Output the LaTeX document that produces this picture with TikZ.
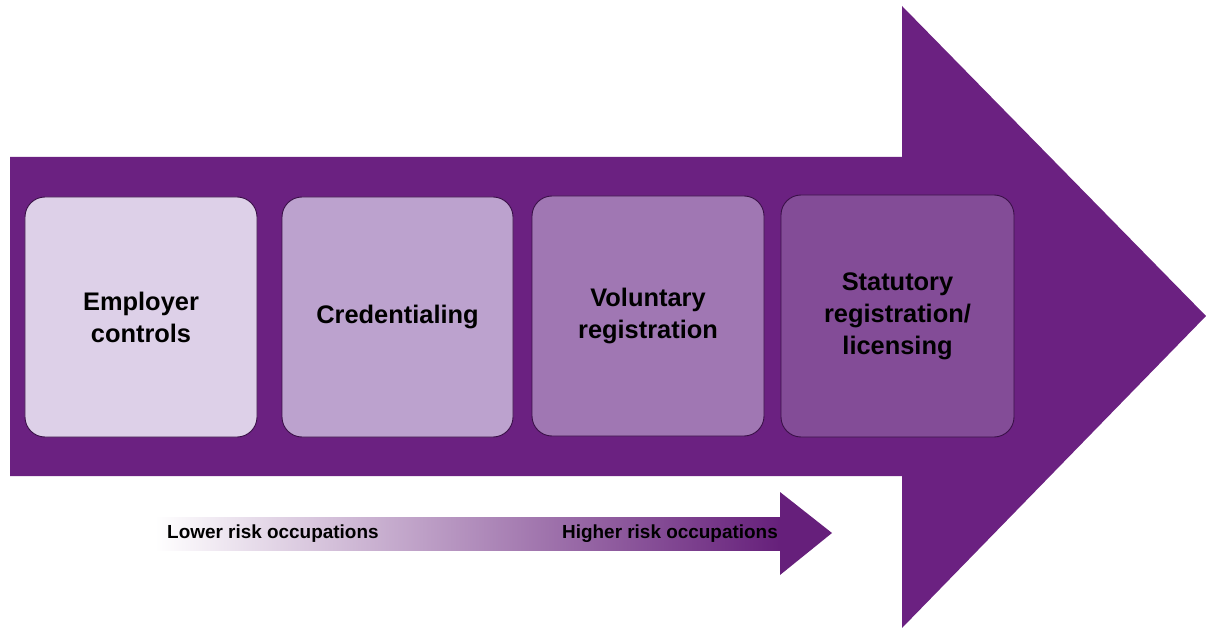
\documentclass[tikz,border=0pt]{standalone}
\usepackage{fontspec}
\setmainfont{Liberation Sans}
\usetikzlibrary{positioning}
\usetikzlibrary{calc}

\definecolor{mainpurple}{HTML}{6B2181}
\definecolor{stepA}{HTML}{DDD0E8}
\definecolor{stepB}{HTML}{BCA2CE}
\definecolor{stepC}{HTML}{A077B3}
\definecolor{stepD}{HTML}{834C97}
\definecolor{edgepurple}{HTML}{3A1048}

\begin{document}
\begin{tikzpicture}[x=1bp,y=-1bp]
			\tikzset{stage/.style = {shape=rectangle, rounded corners=20bp, draw=edgepurple, line width=0.9bp,
					minimum width=232bp, minimum height=240bp, inner sep=0pt, align=center,
					font=\fontsize{25.5}{32}\selectfont\bfseries}}
			\tikzset{risk/.style = {inner sep=0pt, font=\fontsize{19}{23}\selectfont\bfseries}}
			
			\useasboundingbox (0,0) rectangle (1206,628);
			
			% big arrow
			\fill[mainpurple] (10,157) -- (902,157) -- (902,6) -- (1206,316)
				-- (902,628) -- (902,476) -- (10,476) -- cycle;
			
			% stages
			\node[stage, fill=stepA] (EMPLOYER) at (141,317) {Employer\\controls};
			\node[stage, fill=stepB, minimum width=231bp] (CRED) at (397.5,317) {Credentialing};
			\node[stage, fill=stepC] (VOLUNTARY) at (648,316) {Voluntary\\registration};
			\node[stage, fill=stepD, minimum width=233bp, minimum height=242bp] (STATUTORY) at (897.5,316)
				{Statutory\\registration/\\licensing};
			
			% small arrow
			\shade[left color=white, right color=mainpurple!95!black] (155,517) rectangle (781,550);
			\fill[mainpurple!95!black] (780,517) -- (780,492) -- (832,533) -- (780,575) -- (780,550) -- cycle;
			
			\node[risk, anchor=west] (LOWER) at (167,534) {Lower risk occupations};
			\node[risk, anchor=east] (HIGHER) at (778,534) {Higher risk occupations};
			
\end{tikzpicture}
\end{document}
